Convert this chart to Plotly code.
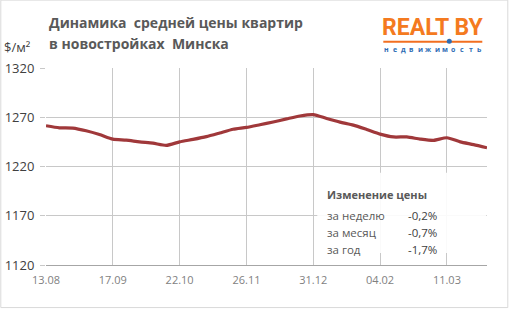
import plotly.graph_objects as go

weeks = ["13.08","20.08","27.08","03.09","10.09","17.09","24.09","01.10","08.10","15.10",
         "22.10","29.10","05.11","12.11","19.11","26.11","03.12","10.12","17.12","24.12",
         "31.12","07.01","14.01","21.01","28.01","04.02","11.02","18.02","25.02","04.03",
         "11.03","18.03","25.03","01.04"]
prices = [1261.4,1259.3,1259.0,1256.3,1252.5,1247.8,1246.8,1245.0,1243.7,1241.4,
          1245.0,1247.5,1250.3,1254.0,1257.8,1259.7,1262.4,1265.2,1268.3,1271.3,
          1272.7,1268.8,1265.1,1262.0,1257.6,1252.9,1250.0,1250.0,1247.8,1246.5,
          1249.2,1245.0,1242.2,1239.0]
x_tick_labels = ["13.08","17.09","22.10","26.11","31.12","04.02","11.03"]
y_ticks = [1120, 1170, 1220, 1270, 1320]
change_labels = ["за неделю", "за месяц", "за год"]
change_values = ["-0,2%", "-0,7%", "-1,7%"]
logo_sub = list("недвижимость")

W, H = 509, 309
L, R, T, B = 45.7, 486.7, 68.3, 265.0
PW, PH = R - L, B - T

def px(x):
    return (x - L) / PW

def py(y):
    return (B - y) / PH

TXT = "#595959"
GRID = "#c8c8c8"
FONT = "Open Sans"

fig = go.Figure()
fig.add_trace(go.Scatter(
    x=list(range(len(weeks))), y=prices, mode="lines",
    line=dict(color="#a0383a", width=3.2, shape="spline", smoothing=0.6),
    hoverinfo="skip", showlegend=False))

tickvals = [weeks.index(t) for t in x_tick_labels]

fig.update_layout(
    width=W, height=H,
    margin=dict(l=L, r=W - R, t=T, b=H - B),
    paper_bgcolor="white", plot_bgcolor="white",
    font=dict(family=FONT, color=TXT),
    xaxis=dict(range=[0, len(weeks) - 1], tickvals=tickvals, ticktext=x_tick_labels,
               showgrid=True, gridcolor=GRID, gridwidth=1, zeroline=False,
               showline=True, linecolor="#a6a6a6", linewidth=1, automargin=False,
               tickfont=dict(family=FONT, size=11, color="#7f7f7f"),
               ticks="", ticklabelstandoff=5),
    yaxis=dict(range=[1120, 1320], tickvals=y_ticks, showgrid=True, gridcolor=GRID,
               gridwidth=1, zeroline=False, showline=False, automargin=False,
               ticks="outside", ticklen=5, tickcolor=GRID,
               tickfont=dict(family=FONT, size=13, color="#404040"),
               ticklabelstandoff=3),
)

shapes = []
shapes.append(dict(type="rect", xref="paper", yref="paper",
                   x0=px(0.5), x1=px(507.5), y0=py(307.5), y1=py(0.5),
                   line=dict(color="#d9d9d9", width=1), fillcolor="rgba(0,0,0,0)", layer="below"))
shapes.append(dict(type="rect", xref="paper", yref="paper",
                   x0=px(317), x1=px(486), y0=py(253), y1=py(173),
                   line=dict(width=0), fillcolor="rgba(255,255,255,0.9)", layer="above"))
shapes.append(dict(type="line", xref="paper", yref="paper",
                   x0=px(383), x1=px(482), y0=py(42), y1=py(42),
                   line=dict(color="#f26f21", width=2)))
shapes.append(dict(type="circle", xref="paper", yref="paper",
                   x0=px(446.5), x1=px(451.5), y0=py(44), y1=py(39),
                   line=dict(width=0), fillcolor="#2e6db4"))
fig.update_layout(shapes=shapes)

ann = []
ann.append(dict(text="<b>Динамика  средней цены квартир</b>", x=px(47), y=py(23),
                xanchor="left", yanchor="middle", font=dict(size=14, color=TXT)))
ann.append(dict(text="<b>в новостройках  Минска</b>", x=px(47), y=py(44),
                xanchor="left", yanchor="middle", font=dict(size=14, color=TXT)))
ann.append(dict(text="$/м²", x=px(2), y=py(47), xanchor="left", yanchor="middle",
                font=dict(size=13, color="#404040")))
ann.append(dict(text="<b>REALT BY</b>", x=px(432), y=py(28), xanchor="center", yanchor="middle",
                font=dict(family="Roboto", size=23, color="#f47a20")))
n = len(logo_sub)
for i, ch in enumerate(logo_sub):
    ann.append(dict(text="<b>" + ch + "</b>", x=px(386 + i * (93.0 / (n - 1))), y=py(49.5),
                    xanchor="center", yanchor="middle",
                    font=dict(size=7, color="#2e6db4")))
ann.append(dict(text="<b>Изменение цены</b>", x=px(325), y=py(195), xanchor="left",
                yanchor="middle", font=dict(size=11, color=TXT)))
for i, (lab, val) in enumerate(zip(change_labels, change_values)):
    yy = 216 + 17 * i
    ann.append(dict(text=lab, x=px(325), y=py(yy), xanchor="left", yanchor="middle",
                    font=dict(size=11.5, color=TXT)))
    ann.append(dict(text=val, x=px(439), y=py(yy), xanchor="right", yanchor="middle",
                    font=dict(size=11.5, color="#404040")))
for a in ann:
    a.update(xref="paper", yref="paper", showarrow=False)
fig.update_layout(annotations=ann)

fig.write_html("out.html")
